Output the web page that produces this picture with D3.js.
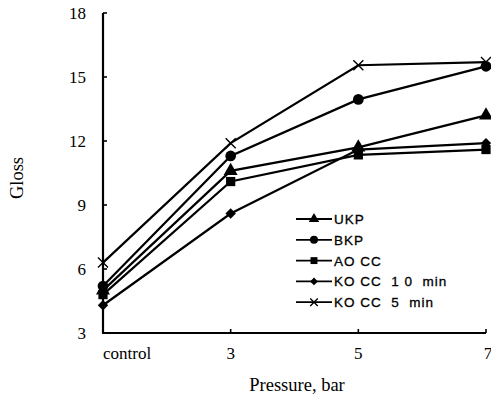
<!DOCTYPE html>
<html>
<head>
<meta charset="utf-8">
<script src="https://cdn.jsdelivr.net/npm/d3@7"></script>
<style>
  body { margin: 0; background: #fff; }
  svg { display: block; }
  .tick-lab { font-family: "Liberation Serif", "DejaVu Serif", serif; font-size: 17px; fill: #000; }
  .title-lab { font-family: "Liberation Serif", "DejaVu Serif", serif; font-size: 18.5px; fill: #000; }
  .leg-lab { font-family: "Liberation Sans", Arial, sans-serif; font-size: 13.5px; letter-spacing: 1px; fill: #000; stroke: #000; stroke-width: 0.3px; }
</style>
</head>
<body>
<svg id="chart" width="491" height="402"></svg>
<script>
  // données
  var categories = ["control", "3", "5", "7"];
  var yTicks = [3, 6, 9, 12, 15, 18];
  var seriesNames = ["UKP", "BKP", "AO CC", "KO CC  1 0  min", "KO CC  5  min"];
  var ukp = [5.0, 10.6, 11.7, 13.2];
  var bkp = [5.2, 11.3, 13.95, 15.5];
  var aocc = [4.8, 10.1, 11.35, 11.6];
  var kocc10 = [4.3, 8.6, 11.6, 11.9];
  var kocc5 = [6.3, 11.9, 15.55, 15.7];

  var symbols = ["triangle", "circle", "square", "diamond", "cross"];
  var allSeries = [ukp, bkp, aocc, kocc10, kocc5];

  var margin = { left: 103, right: 5, top: 13, bottom: 69 };
  var W = 491, H = 402;

  var svg = d3.select("#chart");

  var x = d3.scalePoint().domain(categories).range([margin.left, 486]);
  var y = d3.scaleLinear().domain([3, 18]).range([H - margin.bottom, margin.top]);

  // axes
  var axes = svg.append("g");
  axes.append("line")
    .attr("x1", x("control")).attr("x2", x("control"))
    .attr("y1", y(18)).attr("y2", y(3))
    .attr("stroke", "#000").attr("stroke-width", 2.2);
  axes.append("line")
    .attr("x1", x("control") - 1).attr("x2", x("7"))
    .attr("y1", y(3)).attr("y2", y(3))
    .attr("stroke", "#000").attr("stroke-width", 2.2);

  yTicks.forEach(function (t) {
    axes.append("line")
      .attr("x1", x("control")).attr("x2", x("control") + 4)
      .attr("y1", y(t)).attr("y2", y(t))
      .attr("stroke", "#000").attr("stroke-width", 1.6);
    axes.append("text")
      .attr("class", "tick-lab")
      .attr("x", 86).attr("y", y(t) + 6)
      .attr("text-anchor", "end")
      .text(t);
  });

  categories.forEach(function (c, i) {
    if (i > 0) {
      axes.append("line")
        .attr("x1", x(c)).attr("x2", x(c))
        .attr("y1", y(3)).attr("y2", y(3) - 4)
        .attr("stroke", "#000").attr("stroke-width", 1.6);
    }
    axes.append("text")
      .attr("class", "tick-lab")
      .attr("x", i === 0 ? x(c) : x(c) + (i === 3 ? 2 : 0))
      .attr("y", 359)
      .attr("text-anchor", i === 0 ? "start" : "middle")
      .text(c);
  });

  svg.append("text")
    .attr("class", "title-lab")
    .attr("x", 297).attr("y", 391)
    .attr("text-anchor", "middle")
    .text("Pressure, bar");

  svg.append("text")
    .attr("class", "title-lab")
    .attr("transform", "translate(23,178) rotate(-90)")
    .attr("text-anchor", "middle")
    .text("Gloss");

  // marqueurs
  function drawMarker(g, type, cx, cy, s) {
    if (type === "cross") {
      var r = 5 * s;
      g.append("path")
        .attr("d", "M" + (cx - r) + "," + (cy - r) + "L" + (cx + r) + "," + (cy + r) +
                   "M" + (cx - r) + "," + (cy + r) + "L" + (cx + r) + "," + (cy - r))
        .attr("stroke", "#000").attr("stroke-width", 1.4).attr("fill", "none");
      return;
    }
    if (type === "diamond") {
      var d = 5.2 * s;
      g.append("path")
        .attr("d", "M" + cx + "," + (cy - d) + "L" + (cx + d) + "," + cy +
                   "L" + cx + "," + (cy + d) + "L" + (cx - d) + "," + cy + "Z")
        .attr("fill", "#000");
      return;
    }
    var sym = {
      triangle: d3.symbolTriangle,
      circle: d3.symbolCircle,
      square: d3.symbolSquare
    }[type];
    var size = { triangle: 85, circle: 90, square: 85 }[type] * s * s;
    g.append("path")
      .attr("d", d3.symbol().type(sym).size(size)())
      .attr("transform", "translate(" + cx + "," + cy + ")")
      .attr("fill", "#000");
  }

  var line = d3.line()
    .x(function (d, i) { return x(categories[i]); })
    .y(function (d) { return y(d); });

  var plot = svg.append("g");
  allSeries.forEach(function (vals, k) {
    plot.append("path")
      .datum(vals)
      .attr("d", line)
      .attr("fill", "none")
      .attr("stroke", "#000")
      .attr("stroke-width", 2.2);
    vals.forEach(function (v, i) {
      drawMarker(plot, symbols[k], x(categories[i]), y(v), 1);
    });
  });

  // légende
  var leg = svg.append("g");
  var legY0 = 219, legStep = 20.8;
  seriesNames.forEach(function (name, k) {
    var ly = legY0 + k * legStep;
    leg.append("line")
      .attr("x1", 296).attr("x2", 332)
      .attr("y1", ly).attr("y2", ly)
      .attr("stroke", "#000").attr("stroke-width", 1.8);
    drawMarker(leg, symbols[k], 314, ly, 0.75);
    leg.append("text")
      .attr("class", "leg-lab")
      .attr("x", 334).attr("y", ly + 5)
      .attr("xml:space", "preserve")
      .style("white-space", "pre")
      .text(name);
  });
</script>
</body>
</html>
